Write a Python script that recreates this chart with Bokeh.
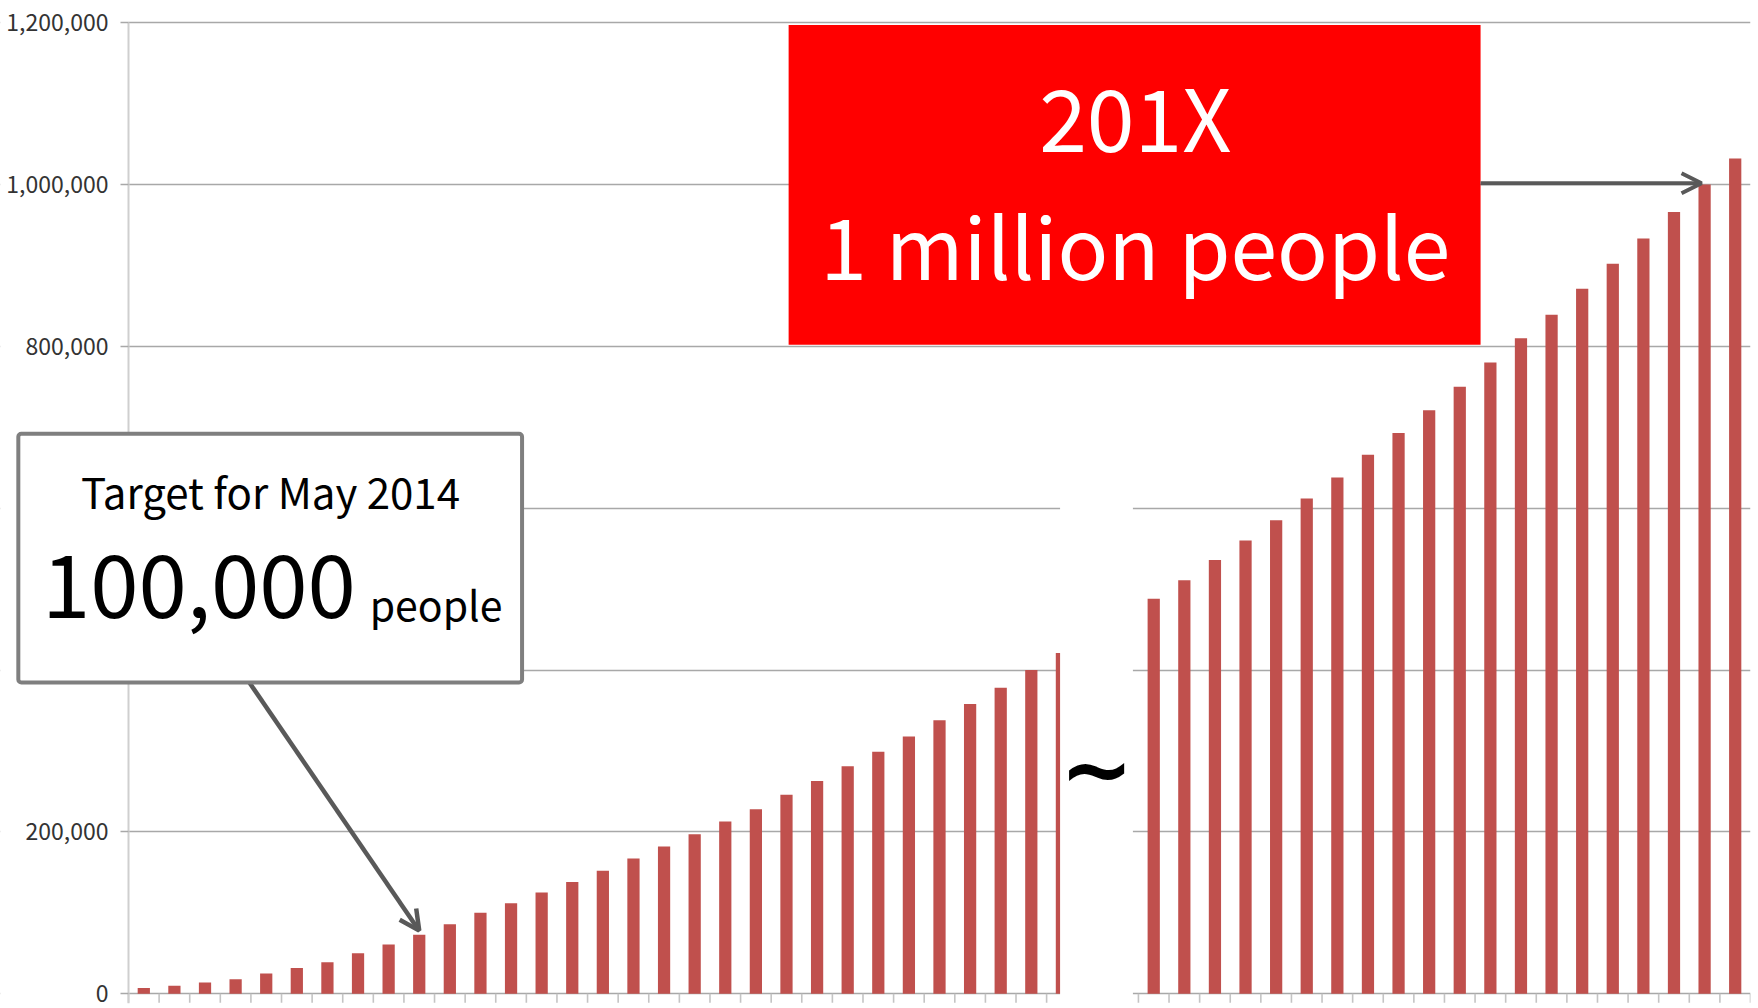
import numpy as np
from bokeh.plotting import figure
from bokeh.models import (Range1d, FixedTicker, NumeralTickFormatter, BoxAnnotation,
                          Label, Arrow, OpenHead)
from bokeh.embed import file_html
from bokeh.resources import INLINE

# ---------------- data ----------------
left_values = [7000, 10000, 14000, 18000, 25000, 32000, 39000, 50000, 61000, 73000,
               86000, 100000, 112000, 125000, 138000, 152000, 167000, 182000, 197000, 213000,
               228000, 246000, 263000, 281000, 299000, 318000, 338000, 358000, 378000, 400000,
               421000]
right_values = [488000, 511000, 536000, 560000, 585000, 612000, 638000, 666000, 693000, 721000,
                750000, 780000, 810000, 839000, 871000, 902000, 933000, 966000, 1000000, 1032000]
y_ticks = [0, 200000, 400000, 600000, 800000, 1000000, 1200000]
target_index = 9      # left bar pointed at by the "Target for May 2014" callout
million_index = 18    # right bar pointed at by the "1 million people" callout

box1_title = "Target for May 2014"
box1_number = "100,000"
box1_unit = "people"
box2_line1 = "201X"
box2_line2 = "1 million people"
break_mark = "~"

# ---------------- layout ----------------
left_x = np.arange(len(left_values))
right_x = np.arange(len(right_values)) + len(left_values) + 2
gap_left = left_x[-1] - 0.06          # left panel ends inside its last bar
gap_right = right_x[0] - 0.68         # right panel starts
axis_x = -0.5                         # y axis sits on the first category boundary
x_start = axis_x - 4.1825             # room on the left for the tick labels
y_bottom = -12000
y_top = y_ticks[-1] + 27200           # headroom so the top tick label is not cut

BAR = "#c0504d"
GRID = "#a8a8a8"
TXT_FONT = "Noto Sans CJK JP"

p = figure(width=1758, height=1008, output_backend="svg", toolbar_location=None,
           x_range=Range1d(x_start, right_x[-1] + 0.5), y_range=Range1d(y_bottom, y_top),
           x_axis_location=None, title=None,
           min_border_left=0, min_border_right=8, min_border_top=0, min_border_bottom=5)
p.outline_line_color = None
p.background_fill_color = "white"
p.border_fill_color = "white"

# y axis, drawn inside the frame at the first category boundary
yax = p.yaxis[0]
yax.fixed_location = axis_x
yax.bounds = (y_bottom, y_ticks[-1])
yax.ticker = FixedTicker(ticks=y_ticks)
yax.formatter = NumeralTickFormatter(format="0,0")
yax.major_label_text_font = TXT_FONT
yax.major_label_text_font_size = "23px"
yax.major_label_text_color = "#333333"
yax.major_label_standoff = 12
yax.axis_line_color = "#cfcfcf"
yax.axis_line_width = 2
yax.major_tick_line_color = GRID
yax.major_tick_line_width = 1.5
yax.major_tick_out = 8
yax.major_tick_in = 0
yax.minor_tick_line_color = None

p.xgrid.visible = False
p.ygrid.ticker = FixedTicker(ticks=y_ticks)
p.ygrid.grid_line_color = GRID
p.ygrid.grid_line_width = 1.6

# keep the grid lines out of the label area left of the axis
p.add_layout(BoxAnnotation(right=axis_x, fill_color="white", fill_alpha=1,
                           line_color=None, level="underlay"))

# bars
p.vbar(x=left_x, top=left_values, bottom=0, width=0.4, fill_color=BAR, line_color=None)
p.vbar(x=right_x, top=right_values, bottom=0, width=0.4, fill_color=BAR, line_color=None)

# category boundary ticks below the baseline
left_ticks = [t for t in (left_x - 0.5) if t < gap_left]
right_ticks = list(right_x - 0.5) + [right_x[-1] + 0.5]
ticks = np.array(left_ticks + right_ticks)
p.segment(x0=ticks, y0=np.zeros(len(ticks)), x1=ticks, y1=np.full(len(ticks), -11000),
          line_color="#c4c4c4", line_width=1.6)

# break in the axis
p.add_layout(BoxAnnotation(left=gap_left, right=gap_right, top=700000, bottom=y_bottom,
                           fill_color="white", fill_alpha=1, line_color=None))
p.add_layout(Label(x=(gap_left + gap_right) / 2, y=277000, text=break_mark,
                   text_font="DejaVu Sans", text_font_style="bold", text_font_size="88px",
                   text_align="center", text_baseline="middle", text_color="black"))

# callout 1
p.add_layout(Arrow(end=OpenHead(size=20, line_color="#595959", line_width=4.5),
                   x_start=3.45, y_start=384600,
                   x_end=left_x[target_index], y_end=left_values[target_index] + 5000,
                   line_color="#595959", line_width=4.5))
p.add_layout(BoxAnnotation(left=-4.10, right=12.36, top=692000, bottom=384600,
                           fill_color="white", fill_alpha=1,
                           line_color="#7f7f7f", line_alpha=1, line_width=4,
                           border_radius=3))
p.add_layout(Label(x=4.14, y=622300, text=box1_title, text_font=TXT_FONT,
                   text_font_size="42px", text_align="center", text_baseline="middle",
                   text_color="black"))
p.add_layout(Label(x=-3.33, y=504400, text=box1_number, text_font=TXT_FONT,
                   text_font_size="87px", text_align="left", text_baseline="middle",
                   text_color="black"))
p.add_layout(Label(x=7.38, y=483200, text=box1_unit, text_font=TXT_FONT,
                   text_font_size="41px", text_align="left", text_baseline="middle",
                   text_color="black"))

# callout 2
p.add_layout(BoxAnnotation(left=21.07, right=43.68, top=1197000, bottom=802000,
                           fill_color="#ff0000", fill_alpha=1, line_color=None))
p.add_layout(Arrow(end=OpenHead(size=20, line_color="#595959", line_width=4),
                   x_start=43.68, y_start=1001500,
                   x_end=right_x[million_index] - 0.1, y_end=1001500,
                   line_color="#595959", line_width=4))
p.add_layout(Label(x=32.4, y=1086900, text=box2_line1, text_font=TXT_FONT,
                   text_font_size="86px", text_align="center", text_baseline="middle",
                   text_color="white"))
p.add_layout(Label(x=32.4, y=926600, text=box2_line2, text_font=TXT_FONT,
                   text_font_size="84px", text_align="center", text_baseline="middle",
                   text_color="white"))

open("out.html", "w").write(file_html(p, INLINE))
